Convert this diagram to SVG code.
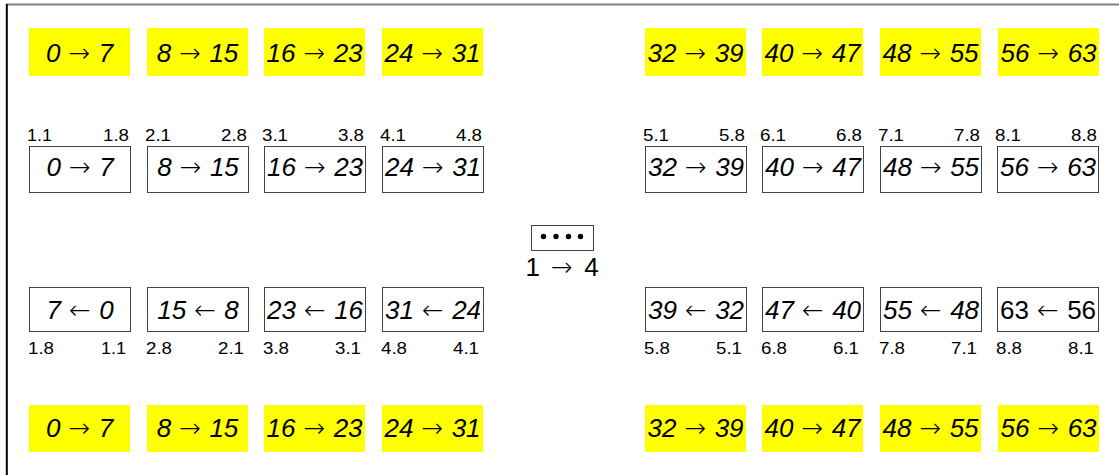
<svg xmlns="http://www.w3.org/2000/svg" width="1119" height="475" viewBox="0 0 1119 475">
<style>
.y{fill:#ffff00;stroke:none}
.b{fill:#fff;stroke:#444;stroke-width:1}
.t{font-family:"Liberation Sans",Arial,sans-serif;font-size:26px;font-style:italic;text-anchor:middle;fill:#000}
.u{font-style:normal}
.a{font-family:"DejaVu Sans",sans-serif;font-style:normal;font-weight:200}
.l{font-family:"Liberation Sans",Arial,sans-serif;font-size:16px;fill:#000}
.e{text-anchor:end}
</style>
<rect width="1119" height="475" fill="#fff"/>
<line x1="6" y1="4.5" x2="1119" y2="4.5" stroke="#808080" stroke-width="2"/>
<line x1="6.8" y1="4" x2="6.8" y2="475" stroke="#000" stroke-width="2"/>
<g id="top">
<rect class="y" x="29" y="28" width="101" height="48"/><text class="t" x="79.5" y="61.5">0 <tspan class="a" dx="1">→</tspan> <tspan dx="1">7</tspan></text>
<rect class="y" x="147" y="28" width="101" height="48"/><text class="t" x="197.5" y="61.5">8 <tspan class="a" dx="1">→</tspan> <tspan dx="1">15</tspan></text>
<rect class="y" x="264" y="28" width="101" height="48"/><text class="t" x="314.5" y="61.5">16 <tspan class="a" dx="1">→</tspan> <tspan dx="1">23</tspan></text>
<rect class="y" x="382" y="28" width="101" height="48"/><text class="t" x="432.5" y="61.5">24 <tspan class="a" dx="1">→</tspan> <tspan dx="1">31</tspan></text>
<rect class="y" x="645" y="28" width="101" height="48"/><text class="t" x="695.5" y="61.5">32 <tspan class="a" dx="1">→</tspan> <tspan dx="1">39</tspan></text>
<rect class="y" x="762" y="28" width="101" height="48"/><text class="t" x="812.5" y="61.5">40 <tspan class="a" dx="1">→</tspan> <tspan dx="1">47</tspan></text>
<rect class="y" x="880" y="28" width="101" height="48"/><text class="t" x="930.5" y="61.5">48 <tspan class="a" dx="1">→</tspan> <tspan dx="1">55</tspan></text>
<rect class="y" x="998" y="28" width="101" height="48"/><text class="t" x="1048.5" y="61.5">56 <tspan class="a" dx="1">→</tspan> <tspan dx="1">63</tspan></text>
</g>
<g id="row2">
<g id="n1"><rect class="b" x="29.5" y="146.5" width="101" height="46"/><text class="t" x="80" y="176">0 <tspan class="a" dx="1">→</tspan> <tspan dx="1">7</tspan></text><text class="l" x="27" y="141" textLength="25" lengthAdjust="spacingAndGlyphs">1.1</text><text class="l e" x="129" y="141" textLength="26" lengthAdjust="spacingAndGlyphs">1.8</text></g>
<g id="n2"><rect class="b" x="147.5" y="146.5" width="101" height="46"/><text class="t" x="198" y="176">8 <tspan class="a" dx="1">→</tspan> <tspan dx="1">15</tspan></text><text class="l" x="145" y="141" textLength="26" lengthAdjust="spacingAndGlyphs">2.1</text><text class="l e" x="247" y="141" textLength="26" lengthAdjust="spacingAndGlyphs">2.8</text></g>
<g id="n3"><rect class="b" x="264.5" y="146.5" width="101" height="46"/><text class="t" x="315" y="176">16 <tspan class="a" dx="1">→</tspan> <tspan dx="1">23</tspan></text><text class="l" x="262" y="141" textLength="26" lengthAdjust="spacingAndGlyphs">3.1</text><text class="l e" x="364" y="141" textLength="26" lengthAdjust="spacingAndGlyphs">3.8</text></g>
<g id="n4"><rect class="b" x="382.5" y="146.5" width="101" height="46"/><text class="t" x="433" y="176">24 <tspan class="a" dx="1">→</tspan> <tspan dx="1">31</tspan></text><text class="l" x="380" y="141" textLength="26" lengthAdjust="spacingAndGlyphs">4.1</text><text class="l e" x="482" y="141" textLength="26" lengthAdjust="spacingAndGlyphs">4.8</text></g>
<g id="n5"><rect class="b" x="645.5" y="146.5" width="101" height="46"/><text class="t" x="696" y="176">32 <tspan class="a" dx="1">→</tspan> <tspan dx="1">39</tspan></text><text class="l" x="643" y="141" textLength="26" lengthAdjust="spacingAndGlyphs">5.1</text><text class="l e" x="745" y="141" textLength="26" lengthAdjust="spacingAndGlyphs">5.8</text></g>
<g id="n6"><rect class="b" x="762.5" y="146.5" width="101" height="46"/><text class="t" x="813" y="176">40 <tspan class="a" dx="1">→</tspan> <tspan dx="1">47</tspan></text><text class="l" x="760" y="141" textLength="26" lengthAdjust="spacingAndGlyphs">6.1</text><text class="l e" x="862" y="141" textLength="26" lengthAdjust="spacingAndGlyphs">6.8</text></g>
<g id="n7"><rect class="b" x="880.5" y="146.5" width="101" height="46"/><text class="t" x="931" y="176">48 <tspan class="a" dx="1">→</tspan> <tspan dx="1">55</tspan></text><text class="l" x="878" y="141" textLength="26" lengthAdjust="spacingAndGlyphs">7.1</text><text class="l e" x="980" y="141" textLength="26" lengthAdjust="spacingAndGlyphs">7.8</text></g>
<g id="n8"><rect class="b" x="997.5" y="146.5" width="101" height="46"/><text class="t" x="1048" y="176">56 <tspan class="a" dx="1">→</tspan> <tspan dx="1">63</tspan></text><text class="l" x="995" y="141" textLength="26" lengthAdjust="spacingAndGlyphs">8.1</text><text class="l e" x="1097" y="141" textLength="26" lengthAdjust="spacingAndGlyphs">8.8</text></g>
</g>
<g id="center">
<rect class="b" x="531.5" y="225.5" width="62" height="25"/>
<circle cx="543.5" cy="236.5" r="2.7"/><circle cx="556" cy="236.5" r="2.7"/><circle cx="568.5" cy="236.5" r="2.7"/><circle cx="580.5" cy="236.5" r="2.7"/>
<text class="t u" x="562" y="276">1 <tspan class="a" dx="4">→</tspan> <tspan dx="4">4</tspan></text>
</g>
<g id="row3">
<g id="m1"><rect class="b" x="29.5" y="287.5" width="101" height="44"/><text class="t" x="80" y="318.5">7 <tspan class="a" dx="1">←</tspan> <tspan dx="1">0</tspan></text><text class="l" x="28" y="354" textLength="26" lengthAdjust="spacingAndGlyphs">1.8</text><text class="l e" x="126" y="354" textLength="25" lengthAdjust="spacingAndGlyphs">1.1</text></g>
<g id="m2"><rect class="b" x="147.5" y="287.5" width="101" height="44"/><text class="t" x="198" y="318.5">15 <tspan class="a" dx="1">←</tspan> <tspan dx="1">8</tspan></text><text class="l" x="146" y="354" textLength="26" lengthAdjust="spacingAndGlyphs">2.8</text><text class="l e" x="244" y="354" textLength="26" lengthAdjust="spacingAndGlyphs">2.1</text></g>
<g id="m3"><rect class="b" x="264.5" y="287.5" width="101" height="44"/><text class="t" x="315" y="318.5">23 <tspan class="a" dx="1">←</tspan> <tspan dx="1">16</tspan></text><text class="l" x="263" y="354" textLength="26" lengthAdjust="spacingAndGlyphs">3.8</text><text class="l e" x="361" y="354" textLength="26" lengthAdjust="spacingAndGlyphs">3.1</text></g>
<g id="m4"><rect class="b" x="382.5" y="287.5" width="101" height="44"/><text class="t" x="433" y="318.5">31 <tspan class="a" dx="1">←</tspan> <tspan dx="1">24</tspan></text><text class="l" x="381" y="354" textLength="26" lengthAdjust="spacingAndGlyphs">4.8</text><text class="l e" x="479" y="354" textLength="26" lengthAdjust="spacingAndGlyphs">4.1</text></g>
<g id="m5"><rect class="b" x="645.5" y="287.5" width="101" height="44"/><text class="t" x="696" y="318.5">39 <tspan class="a" dx="1">←</tspan> <tspan dx="1">32</tspan></text><text class="l" x="644" y="354" textLength="26" lengthAdjust="spacingAndGlyphs">5.8</text><text class="l e" x="742" y="354" textLength="26" lengthAdjust="spacingAndGlyphs">5.1</text></g>
<g id="m6"><rect class="b" x="762.5" y="287.5" width="101" height="44"/><text class="t" x="813" y="318.5">47 <tspan class="a" dx="1">←</tspan> <tspan dx="1">40</tspan></text><text class="l" x="761" y="354" textLength="26" lengthAdjust="spacingAndGlyphs">6.8</text><text class="l e" x="859" y="354" textLength="26" lengthAdjust="spacingAndGlyphs">6.1</text></g>
<g id="m7"><rect class="b" x="880.5" y="287.5" width="101" height="44"/><text class="t" x="931" y="318.5">55 <tspan class="a" dx="1">←</tspan> <tspan dx="1">48</tspan></text><text class="l" x="879" y="354" textLength="26" lengthAdjust="spacingAndGlyphs">7.8</text><text class="l e" x="977" y="354" textLength="26" lengthAdjust="spacingAndGlyphs">7.1</text></g>
<g id="m8"><rect class="b" x="997.5" y="287.5" width="101" height="44"/><text class="t u" x="1048" y="318.5">63 <tspan class="a" dx="1">←</tspan> <tspan dx="1">56</tspan></text><text class="l" x="996" y="354" textLength="26" lengthAdjust="spacingAndGlyphs">8.8</text><text class="l e" x="1094" y="354" textLength="26" lengthAdjust="spacingAndGlyphs">8.1</text></g>
</g>
<g id="bottom">
<rect class="y" x="29" y="405" width="101" height="47"/><text class="t" x="79.5" y="437">0 <tspan class="a" dx="1">→</tspan> <tspan dx="1">7</tspan></text>
<rect class="y" x="147" y="405" width="101" height="47"/><text class="t" x="197.5" y="437">8 <tspan class="a" dx="1">→</tspan> <tspan dx="1">15</tspan></text>
<rect class="y" x="264" y="405" width="101" height="47"/><text class="t" x="314.5" y="437">16 <tspan class="a" dx="1">→</tspan> <tspan dx="1">23</tspan></text>
<rect class="y" x="382" y="405" width="101" height="47"/><text class="t" x="432.5" y="437">24 <tspan class="a" dx="1">→</tspan> <tspan dx="1">31</tspan></text>
<rect class="y" x="645" y="405" width="101" height="47"/><text class="t" x="695.5" y="437">32 <tspan class="a" dx="1">→</tspan> <tspan dx="1">39</tspan></text>
<rect class="y" x="762" y="405" width="101" height="47"/><text class="t" x="812.5" y="437">40 <tspan class="a" dx="1">→</tspan> <tspan dx="1">47</tspan></text>
<rect class="y" x="880" y="405" width="101" height="47"/><text class="t" x="930.5" y="437">48 <tspan class="a" dx="1">→</tspan> <tspan dx="1">55</tspan></text>
<rect class="y" x="998" y="405" width="101" height="47"/><text class="t" x="1048.5" y="437">56 <tspan class="a" dx="1">→</tspan> <tspan dx="1">63</tspan></text>
</g>
<g id="connectors"></g>
</svg>
